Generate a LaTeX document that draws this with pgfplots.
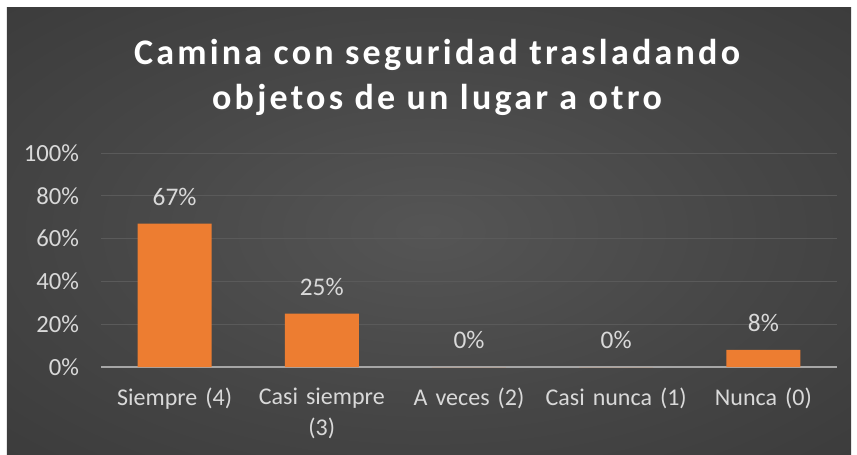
\documentclass[border=0pt]{standalone}
\usepackage{fontspec}
\setmainfont{Carlito}
\newfontfamily\titlefont[LetterSpace=9]{Carlito}
\usepackage{pgfplots}
\pgfplotsset{compat=1.18}
\definecolor{barorange}{HTML}{ED7D31}
\definecolor{txtgray}{HTML}{D9D9D9}
\definecolor{gridgray}{HTML}{5A5A5A}
\definecolor{basegray}{HTML}{A6A6A6}
\definecolor{bgin}{HTML}{555555}
\definecolor{bgmid}{HTML}{464646}
\definecolor{bgout}{HTML}{262626}
\pgfdeclareradialshading{chartbg}{\pgfpoint{0bp}{0bp}}{%
  color(0bp)=(bgin); color(20bp)=(bgmid); color(70bp)=(bgout); color(100bp)=(bgout)}
\begin{document}
\begin{tikzpicture}[x=0.75pt,y=0.75pt]
% page and chart area (pixels relative to the plot origin)
\fill[white] (-101,-87) rectangle (756,367);
\shade[shading=chartbg] (-94,-87) rectangle (750,359);
\node[font=\titlefont\bfseries\fontsize{27}{33}\selectfont, text=black!70, opacity=0.5] at (337.5,310.5) {Camina con seguridad trasladando};
\node[font=\titlefont\bfseries\fontsize{27}{33}\selectfont, text=black!70, opacity=0.5] at (337.5,265.5) {objetos de un lugar a otro};
\node[font=\titlefont\bfseries\fontsize{27}{33}\selectfont, text=white] at (336,312) {Camina con seguridad trasladando};
\node[font=\titlefont\bfseries\fontsize{27}{33}\selectfont, text=white] at (336,267) {objetos de un lugar a otro};
\begin{axis}[
  at={(0,0)}, anchor=south west,
  scale only axis,
  width=552pt, height=160.5pt,
  ybar, bar width=55.5pt,
  xmin=-0.5, xmax=4.5,
  ymin=0, ymax=100,
  ytick={0,20,...,100},
  yticklabel={\pgfmathprintnumber{\tick}\%},
  xtick=data,
  xticklabels={Siempre (4),Casi siempre\\(3),A veces (2),Casi nunca (1),Nunca (0)},
  xticklabel style={align=center, text width=130pt, font=\fontsize{18}{23}\selectfont, yshift=-12.5pt},
  yticklabel style={font=\fontsize{18.5}{22}\selectfont, xshift=-13pt},
  /pgf/number format/assume math mode=true,
  tick label style={text=txtgray},
  major tick length=0pt,
  axis line style={draw=none},
  ymajorgrids,
  grid style={gridgray, line width=0.75pt},
  extra y ticks={0},
  extra y tick labels={},
  extra y tick style={grid style={basegray, line width=1.5pt}},
  nodes near coords={\pgfmathprintnumber{\pgfplotspointmeta}\%},
  every node near coord/.append style={text=txtgray, font=\fontsize{19}{22}\selectfont, yshift=10pt},
  clip=false,
]
\addplot[fill=barorange, draw=none] coordinates {(0,67) (1,25) (2,0) (3,0) (4,8)};
\end{axis}
\end{tikzpicture}
\end{document}
